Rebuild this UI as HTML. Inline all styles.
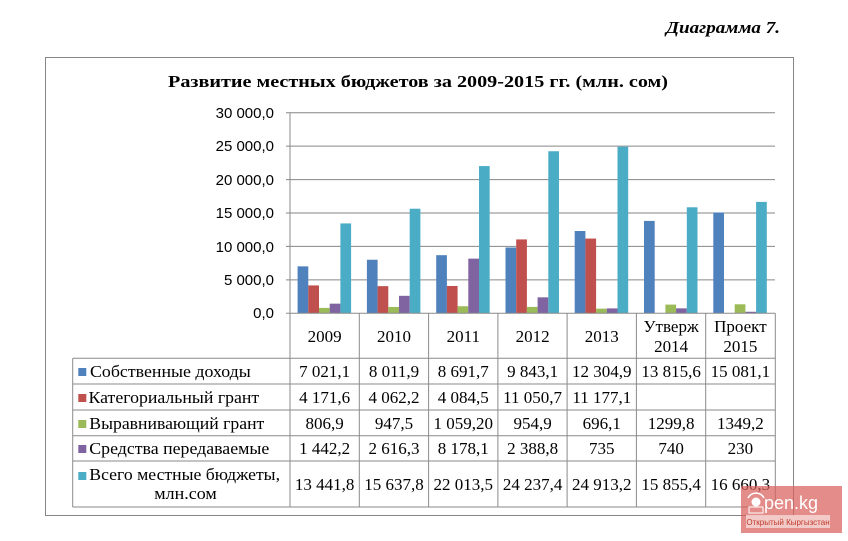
<!DOCTYPE html>
<html><head><meta charset="utf-8"><style>
html,body{margin:0;padding:0;background:#fff;}
svg{display:block;}
text{font-family:"Liberation Serif","Noto Serif CJK SC",serif;fill:#000;}
.ax text{font-family:"Liberation Sans",sans-serif;font-size:15px;}
.v text{font-size:17px;text-anchor:middle;}
.l text{font-size:17px;}
.wm1{font-family:"Liberation Sans",sans-serif;font-size:18px;fill:#fff;}
.wm2{font-family:"Liberation Sans",sans-serif;font-size:8px;fill:#c0392b;}
</style></head><body>
<svg width="848" height="541" viewBox="0 0 848 541" xmlns="http://www.w3.org/2000/svg">
<rect width="848" height="541" fill="#fff"/>
<text x="780" y="33" text-anchor="end" font-size="17" font-weight="bold" font-style="italic" textLength="114" lengthAdjust="spacingAndGlyphs">Диаграмма 7.</text>
<rect x="45.5" y="57.5" width="748" height="458" fill="none" stroke="#868686" stroke-width="1"/>
<text x="168" y="87" font-size="17" font-weight="bold" textLength="500" lengthAdjust="spacingAndGlyphs">Развитие местных бюджетов за 2009-2015 гг. (млн. сом)</text>

<!-- gridlines -->
<g stroke="#868686" stroke-width="1">
<line x1="286" y1="112.7" x2="775" y2="112.7"/>
<line x1="286" y1="146.1" x2="775" y2="146.1"/>
<line x1="286" y1="179.6" x2="775" y2="179.6"/>
<line x1="286" y1="213.0" x2="775" y2="213.0"/>
<line x1="286" y1="246.4" x2="775" y2="246.4"/>
<line x1="286" y1="279.9" x2="775" y2="279.9"/>
</g>
<g class="ax" text-anchor="end">
<text x="274" y="118">30 000,0</text>
<text x="274" y="151">25 000,0</text>
<text x="274" y="185">20 000,0</text>
<text x="274" y="218">15 000,0</text>
<text x="274" y="252">10 000,0</text>
<text x="274" y="285">5 000,0</text>
<text x="274" y="318">0,0</text>
</g>

<!-- bars -->
<g>
<rect x="297.6" y="266.35" width="10.7" height="46.95" fill="#4F81BD"/>
<rect x="308.3" y="285.41" width="10.7" height="27.89" fill="#C0504D"/>
<rect x="319.0" y="307.90" width="10.7" height="5.40" fill="#9BBB59"/>
<rect x="329.7" y="303.66" width="10.7" height="9.64" fill="#8064A2"/>
<rect x="340.4" y="223.42" width="10.7" height="89.88" fill="#4BACC6"/>
<rect x="366.9" y="259.73" width="10.7" height="53.57" fill="#4F81BD"/>
<rect x="377.6" y="286.14" width="10.7" height="27.16" fill="#C0504D"/>
<rect x="388.3" y="306.96" width="10.7" height="6.34" fill="#9BBB59"/>
<rect x="399.0" y="295.81" width="10.7" height="17.49" fill="#8064A2"/>
<rect x="409.7" y="208.73" width="10.7" height="104.57" fill="#4BACC6"/>
<rect x="436.2" y="255.18" width="10.7" height="58.12" fill="#4F81BD"/>
<rect x="446.9" y="285.99" width="10.7" height="27.31" fill="#C0504D"/>
<rect x="457.6" y="306.22" width="10.7" height="7.08" fill="#9BBB59"/>
<rect x="468.3" y="258.62" width="10.7" height="54.68" fill="#8064A2"/>
<rect x="479.0" y="166.10" width="10.7" height="147.20" fill="#4BACC6"/>
<rect x="505.5" y="247.48" width="10.7" height="65.82" fill="#4F81BD"/>
<rect x="516.2" y="239.41" width="10.7" height="73.89" fill="#C0504D"/>
<rect x="526.9" y="306.91" width="10.7" height="6.39" fill="#9BBB59"/>
<rect x="537.6" y="297.33" width="10.7" height="15.97" fill="#8064A2"/>
<rect x="548.3" y="151.23" width="10.7" height="162.07" fill="#4BACC6"/>
<rect x="574.7" y="231.02" width="10.7" height="82.28" fill="#4F81BD"/>
<rect x="585.4" y="238.56" width="10.7" height="74.74" fill="#C0504D"/>
<rect x="596.1" y="308.65" width="10.7" height="4.65" fill="#9BBB59"/>
<rect x="606.8" y="308.39" width="10.7" height="4.91" fill="#8064A2"/>
<rect x="617.5" y="146.71" width="10.7" height="166.59" fill="#4BACC6"/>
<rect x="644.0" y="220.92" width="10.7" height="92.38" fill="#4F81BD"/>
<rect x="665.4" y="304.61" width="10.7" height="8.69" fill="#9BBB59"/>
<rect x="676.1" y="308.35" width="10.7" height="4.95" fill="#8064A2"/>
<rect x="686.8" y="207.28" width="10.7" height="106.02" fill="#4BACC6"/>
<rect x="713.3" y="212.46" width="10.7" height="100.84" fill="#4F81BD"/>
<rect x="734.7" y="304.28" width="10.7" height="9.02" fill="#9BBB59"/>
<rect x="745.4" y="311.76" width="10.7" height="1.54" fill="#8064A2"/>
<rect x="756.1" y="201.90" width="10.7" height="111.40" fill="#4BACC6"/>
</g>

<!-- table lines -->
<g stroke="#8a8a8a" stroke-width="1" fill="none">
<line x1="290" y1="112.7" x2="290" y2="507"/>
<line x1="286" y1="313.3" x2="775.3" y2="313.3"/>
<line x1="359.3" y1="313.3" x2="359.3" y2="507"/>
<line x1="428.6" y1="313.3" x2="428.6" y2="507"/>
<line x1="497.9" y1="313.3" x2="497.9" y2="507"/>
<line x1="567.1" y1="313.3" x2="567.1" y2="507"/>
<line x1="636.4" y1="313.3" x2="636.4" y2="507"/>
<line x1="705.7" y1="313.3" x2="705.7" y2="507"/>
<line x1="775.3" y1="313.3" x2="775.3" y2="507"/>
<line x1="72.7" y1="358.3" x2="72.7" y2="507"/>
<line x1="72.7" y1="358.3" x2="775.3" y2="358.3"/>
<line x1="72.7" y1="384" x2="775.3" y2="384"/>
<line x1="72.7" y1="410" x2="775.3" y2="410"/>
<line x1="72.7" y1="435.7" x2="775.3" y2="435.7"/>
<line x1="72.7" y1="461" x2="775.3" y2="461"/>
<line x1="72.7" y1="507" x2="775.3" y2="507"/>
</g>

<!-- header -->
<g class="v">
<text x="324.6" y="342">2009</text>
<text x="394.0" y="342">2010</text>
<text x="463.3" y="342">2011</text>
<text x="532.6" y="342">2012</text>
<text x="601.8" y="342">2013</text>
<text x="671.1" y="332">Утверж</text>
<text x="671.1" y="352">2014</text>
<text x="740.4" y="332">Проект</text>
<text x="740.4" y="352">2015</text>
</g>

<!-- legend keys -->
<rect x="78.3" y="368" width="8" height="8" fill="#4F81BD"/>
<rect x="78.3" y="394" width="8" height="8" fill="#C0504D"/>
<rect x="78.3" y="420" width="8" height="8" fill="#9BBB59"/>
<rect x="78.3" y="445" width="8" height="8" fill="#8064A2"/>
<rect x="78.3" y="472" width="8" height="8" fill="#4BACC6"/>
<g class="l">
<text x="90" y="377" textLength="160.7" lengthAdjust="spacingAndGlyphs">Собственные доходы</text>
<text x="88.5" y="403" textLength="170.7" lengthAdjust="spacingAndGlyphs">Категориальный грант</text>
<text x="89.3" y="429" textLength="175" lengthAdjust="spacingAndGlyphs">Выравнивающий грант</text>
<text x="89.3" y="454" textLength="180" lengthAdjust="spacingAndGlyphs">Средства передаваемые</text>
<text x="89.3" y="480" textLength="190.7" lengthAdjust="spacingAndGlyphs">Всего местные бюджеты,</text>
<text x="154.3" y="499" textLength="62.4" lengthAdjust="spacingAndGlyphs">млн.сом</text>
</g>

<!-- values -->
<g class="v">
<text x="324.6" y="377">7 021,1</text>
<text x="394.0" y="377">8 011,9</text>
<text x="463.3" y="377">8 691,7</text>
<text x="532.6" y="377">9 843,1</text>
<text x="601.8" y="377">12 304,9</text>
<text x="671.1" y="377">13 815,6</text>
<text x="740.4" y="377">15 081,1</text>

<text x="324.6" y="403">4 171,6</text>
<text x="394.0" y="403">4 062,2</text>
<text x="463.3" y="403">4 084,5</text>
<text x="532.6" y="403">11 050,7</text>
<text x="601.8" y="403">11 177,1</text>

<text x="324.6" y="429">806,9</text>
<text x="394.0" y="429">947,5</text>
<text x="463.3" y="429">1 059,20</text>
<text x="532.6" y="429">954,9</text>
<text x="601.8" y="429">696,1</text>
<text x="671.1" y="429">1299,8</text>
<text x="740.4" y="429">1349,2</text>

<text x="324.6" y="454">1 442,2</text>
<text x="394.0" y="454">2 616,3</text>
<text x="463.3" y="454">8 178,1</text>
<text x="532.6" y="454">2 388,8</text>
<text x="601.8" y="454">735</text>
<text x="671.1" y="454">740</text>
<text x="740.4" y="454">230</text>

<text x="324.6" y="490">13 441,8</text>
<text x="394.0" y="490">15 637,8</text>
<text x="463.3" y="490">22 013,5</text>
<text x="532.6" y="490">24 237,4</text>
<text x="601.8" y="490">24 913,2</text>
<text x="671.1" y="490">15 855,4</text>
<text x="740.4" y="490">16 660,3</text>
</g>

<!-- watermark -->
<rect x="741" y="486" width="101" height="47" fill="#d9605c" fill-opacity="0.72"/>
<circle cx="756" cy="502" r="4.5" fill="#fff"/>
<path d="M748 498 A9 9 0 0 1 764 498" stroke="#fff" stroke-width="1.5" fill="none"/>
<rect x="749" y="507" width="14" height="6" fill="none" stroke="#fff" stroke-width="1"/>
<text class="wm1" x="764" y="509">pen.kg</text>
<rect x="746" y="515" width="84" height="13" fill="#f3d0ce" fill-opacity="0.9"/>
<text class="wm2" x="788" y="525" text-anchor="middle">Открытый Кыргызстан</text>
</svg>
</body></html>
